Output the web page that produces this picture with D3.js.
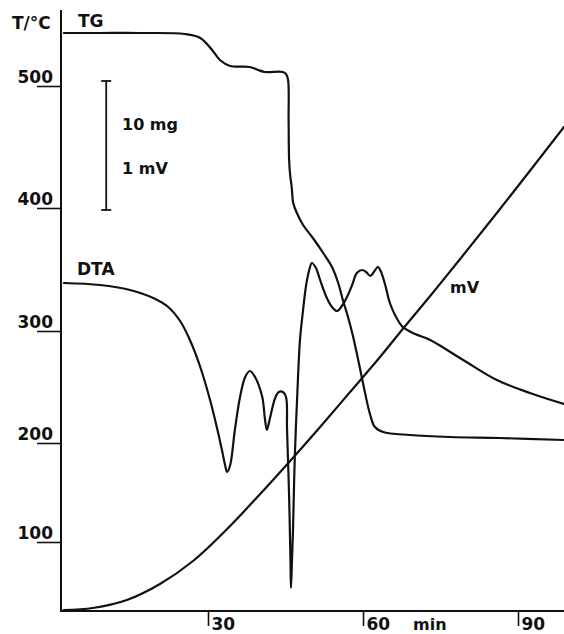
<!DOCTYPE html>
<html><head><meta charset="utf-8">
<script src="https://cdn.jsdelivr.net/npm/d3@7"></script>
<style>
body{margin:0;background:#fff}
svg{display:block}
text{font-family:"DejaVu Sans",sans-serif;font-weight:bold;fill:#111}
</style>
</head><body><div id="chart"></div>
<script>
// ---- data ----
const timeTicks = [30, 60, 90];                 // min
const tempTicks = [100, 200, 300, 400, 500];    // T/°C
const tempTickLevel = [0.69, 1.68, 2.80, 4.03, 5.25]; // recorder level of each temperature mark

const tgTime = [2.1, 9.1, 16.8, 25.5, 28.5, 30.8, 32.3, 34.3, 38.1, 39.7, 41.0, 44.5, 45.1, 45.5, 45.6, 45.7, 45.9, 46.2, 46.5, 47.2, 48.4, 50.3, 52.3, 54.0, 55.2, 56.1, 57.1, 58.1, 59.4, 60.4, 61.4, 62.3, 63.9, 69.1, 76.8, 86.5, 98.9];
const tgVal  = [5.78, 5.78, 5.78, 5.77, 5.73, 5.61, 5.51, 5.45, 5.44, 5.41, 5.39, 5.39, 5.37, 5.31, 4.91, 4.51, 4.36, 4.24, 4.08, 3.98, 3.86, 3.73, 3.58, 3.44, 3.28, 3.11, 2.94, 2.74, 2.43, 2.18, 1.96, 1.84, 1.79, 1.76, 1.74, 1.73, 1.71];

const dtaTime = [2.1, 9.1, 14.9, 19.4, 22.3, 24.6, 26.5, 28.5, 30.4, 31.7, 32.7, 33.3, 33.7, 34.3, 35.2, 36.2, 37.2, 38.1, 39.1, 40.5, 41.0, 41.4, 42.0, 43.0, 43.7, 44.5, 45.1, 45.3, 45.7, 45.96, 46.06, 46.26, 46.45, 46.8, 47.4, 47.8, 48.4, 49.0, 49.6, 50.1, 50.9, 51.7, 53.0, 54.0, 55.0, 55.9, 56.9, 57.9, 58.8, 59.8, 60.6, 61.4, 62.1, 62.9, 63.5, 64.3, 65.2, 66.4, 67.7, 70.1, 73.0, 79.4, 85.9, 92.3, 98.9];
const dtaVal  = [3.28, 3.26, 3.21, 3.13, 3.04, 2.90, 2.71, 2.44, 2.11, 1.84, 1.61, 1.46, 1.39, 1.46, 1.81, 2.14, 2.34, 2.40, 2.34, 2.14, 1.93, 1.81, 1.93, 2.13, 2.19, 2.19, 2.14, 1.81, 1.14, 0.51, 0.23, 0.51, 0.81, 1.54, 2.31, 2.71, 3.01, 3.26, 3.41, 3.48, 3.43, 3.31, 3.13, 3.04, 3.00, 3.05, 3.14, 3.26, 3.38, 3.41, 3.39, 3.35, 3.39, 3.44, 3.39, 3.26, 3.08, 2.94, 2.84, 2.77, 2.71, 2.51, 2.31, 2.18, 2.07];

const mvTime = [2.1, 7.7, 14.3, 20.7, 27.1, 33.7, 40.1, 45.9, 51.7, 57.5, 63.3, 67.7, 73.0, 78.8, 88.5, 98.9];
const mvVal  = [0.01, 0.03, 0.11, 0.27, 0.50, 0.82, 1.17, 1.50, 1.84, 2.19, 2.54, 2.82, 3.15, 3.52, 4.15, 4.84];

const scaleBarTime = 10.3, scaleBarTop = 5.30, scaleBarBottom = 4.01; // 10 mg / 1 mV

// ---- drawing ----
const W = 564, H = 634;
const svg = d3.select("#chart").append("svg").attr("width", W).attr("height", H);

const x = d3.scaleLinear().domain([0, 90]).range([53, 518]);
const y = d3.scaleLinear().domain([0, 6]).range([611, 11]);
const tempScale = d3.scaleLinear().domain(tempTicks).range(tempTickLevel.map(v => y(v)));

const ink = "#111";
const axisX0 = 61, axisY0 = 611, axisTop = 10;

// axes lines
svg.append("line").attr("x1", axisX0).attr("x2", axisX0).attr("y1", axisTop).attr("y2", axisY0 + 1)
  .attr("stroke", ink).attr("stroke-width", 2);
svg.append("line").attr("x1", axisX0).attr("x2", W).attr("y1", axisY0).attr("y2", axisY0)
  .attr("stroke", ink).attr("stroke-width", 2);

// left temperature axis
const gy = svg.append("g").attr("transform", `translate(${axisX0},0)`)
  .call(d3.axisLeft(tempScale).tickValues(tempTicks).tickSize(24).tickFormat(d3.format("d")));
gy.select(".domain").remove();
gy.selectAll(".tick line").attr("stroke", ink).attr("stroke-width", 1.6);
gy.selectAll(".tick text").attr("x", -8).attr("y", -4).attr("dy", null)
  .style("font-size", "17px").style("font-family", "DejaVu Sans").style("font-weight", "bold").attr("fill", ink);

// bottom time axis
const gx = svg.append("g").attr("transform", `translate(0,${axisY0})`)
  .call(d3.axisBottom(x).tickValues(timeTicks).tickSize(15));
gx.select(".domain").remove();
gx.selectAll(".tick line").attr("stroke", ink).attr("stroke-width", 1.6);
gx.selectAll(".tick text").attr("x", 3).attr("y", 19).attr("dy", null).attr("text-anchor", "start")
  .style("font-size", "17px").style("font-family", "DejaVu Sans").style("font-weight", "bold").attr("fill", ink);

svg.append("text").attr("x", 413).attr("y", 630).style("font-size", "16px").text("min");
svg.append("text").attr("x", 12).attr("y", 29).style("font-size", "17px").text("T/°C");

// curves
const line = d3.line().x(d => x(d[0])).y(d => y(d[1])).curve(d3.curveCatmullRom.alpha(0.5));
function draw(t, v) {
  svg.append("path").datum(t.map((d, i) => [d, v[i]])).attr("d", line)
    .attr("fill", "none").attr("stroke", ink).attr("stroke-width", 2.2)
    .attr("stroke-linejoin", "round").attr("stroke-linecap", "round");
}
draw(tgTime, tgVal);
draw(dtaTime, dtaVal);
draw(mvTime, mvVal);

// curve labels
svg.append("text").attr("x", 78).attr("y", 27).style("font-size", "17px").text("TG");
svg.append("text").attr("x", 77).attr("y", 275).style("font-size", "17px").text("DTA");
svg.append("text").attr("x", 450).attr("y", 293).style("font-size", "16px").text("mV");

// scale bar
const sb = svg.append("g").attr("stroke", ink).attr("stroke-width", 1.8);
sb.append("line").attr("x1", x(scaleBarTime)).attr("x2", x(scaleBarTime)).attr("y1", y(scaleBarTop)).attr("y2", y(scaleBarBottom));
[scaleBarTop, scaleBarBottom].forEach(v =>
  sb.append("line").attr("x1", x(scaleBarTime) - 5).attr("x2", x(scaleBarTime) + 5).attr("y1", y(v)).attr("y2", y(v)));
svg.append("text").attr("x", 122).attr("y", 130).style("font-size", "16px").text("10 mg");
svg.append("text").attr("x", 122).attr("y", 174).style("font-size", "16px").text("1 mV");
</script>
</body></html>
